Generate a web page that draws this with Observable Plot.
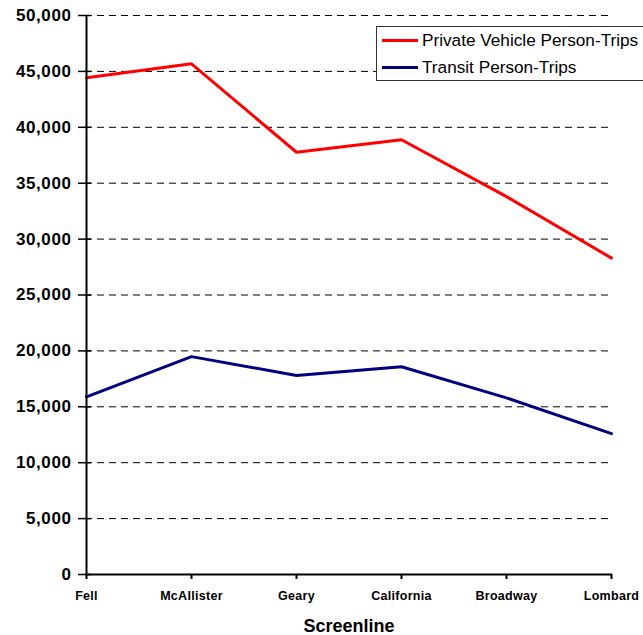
<!DOCTYPE html>
<html>
<head>
<meta charset="utf-8">
<script src="https://cdn.jsdelivr.net/npm/d3@7"></script>
<script src="https://cdn.jsdelivr.net/npm/@observablehq/plot@0.6"></script>
<style>
  html, body { margin: 0; padding: 0; background: #fff; overflow: hidden; }
  #wrap { position: relative; width: 643px; height: 635px; overflow: hidden; }
  #legend { position: absolute; left: 376px; top: 26px; width: 300px; height: 53px;
    border: 1px solid #333; background: #fff; font-family: "Liberation Sans", Arial, sans-serif; font-size: 17.2px; }
  .item { position: absolute; left: 5px; display: flex; align-items: center; white-space: nowrap; }
  .swatch { width: 36px; height: 3px; margin-right: 4px; }
  g[aria-label="y-axis tick label"] text { letter-spacing: 0.6px; }
  g[aria-label="x-axis tick label"] text { letter-spacing: 0.3px; }
</style>
</head>
<body>
<div id="wrap"></div>
<script>
const screenlines = ["Fell", "McAllister", "Geary", "California", "Broadway", "Lombard"];
const privateVehicle = [44430, 45680, 37770, 38890, 33800, 28300];
const transit = [15890, 19490, 17800, 18580, 15800, 12600];
const seriesNames = ["Private Vehicle Person-Trips", "Transit Person-Trips"];
const seriesColors = ["#ff0000", "#000080"];
const yTicks = [0, 5000, 10000, 15000, 20000, 25000, 30000, 35000, 40000, 45000, 50000];

const data = [];
screenlines.forEach((s, i) => {
  data.push({screenline: s, value: privateVehicle[i], series: seriesNames[0]});
  data.push({screenline: s, value: transit[i], series: seriesNames[1]});
});

const chart = Plot.plot({
  width: 643,
  height: 635,
  marginLeft: 85,
  marginRight: 31,
  marginTop: 15,
  marginBottom: 61,
  style: {fontFamily: "'Liberation Sans', Arial, sans-serif", background: "#fff", color: "#000"},
  x: {type: "point", domain: screenlines, padding: 0},
  y: {domain: [0, 50000]},
  color: {domain: seriesNames, range: seriesColors},
  marks: [
    Plot.gridY(yTicks.filter(d => d > 0), {stroke: "#000", strokeOpacity: 1, strokeDasharray: "7,5", strokeWidth: 1}),
    Plot.line(data, {x: "screenline", y: "value", z: "series", stroke: "series", strokeWidth: 3}),
    Plot.ruleY([0], {stroke: "#000", strokeWidth: 2}),
    Plot.ruleX([screenlines[0]], {stroke: "#000", strokeWidth: 2}),
    Plot.axisY({ticks: yTicks, tickFormat: d => d3.format(",")(d), tickSize: 7, tickPadding: 7,
      fontSize: 17, fontWeight: "bold", label: null, stroke: "#000", strokeWidth: 1.5}),
    Plot.axisY({ticks: yTicks, tickFormat: () => "", tickSize: 6, dx: 6, label: null, stroke: "#000", strokeWidth: 1.5}),
    Plot.axisX({tickSize: 5, tickPadding: 12, fontSize: 12.5, fontWeight: "bold", label: null, stroke: "#000", strokeWidth: 2}),
    Plot.text(["Screenline"], {frameAnchor: "bottom", dy: 57, text: d => d, fontSize: 18, fontWeight: "bold", lineAnchor: "bottom"})
  ]
});
const wrap = document.getElementById("wrap");
wrap.appendChild(chart);

const legend = document.createElement("div");
legend.id = "legend";
seriesNames.forEach((name, i) => {
  const item = document.createElement("div");
  item.className = "item";
  item.style.top = (i === 0 ? 3 : 30) + "px";
  const sw = document.createElement("div");
  sw.className = "swatch";
  sw.style.background = seriesColors[i];
  const label = document.createElement("span");
  label.textContent = name;
  item.appendChild(sw);
  item.appendChild(label);
  legend.appendChild(item);
});
wrap.appendChild(legend);
</script>
</body>
</html>
